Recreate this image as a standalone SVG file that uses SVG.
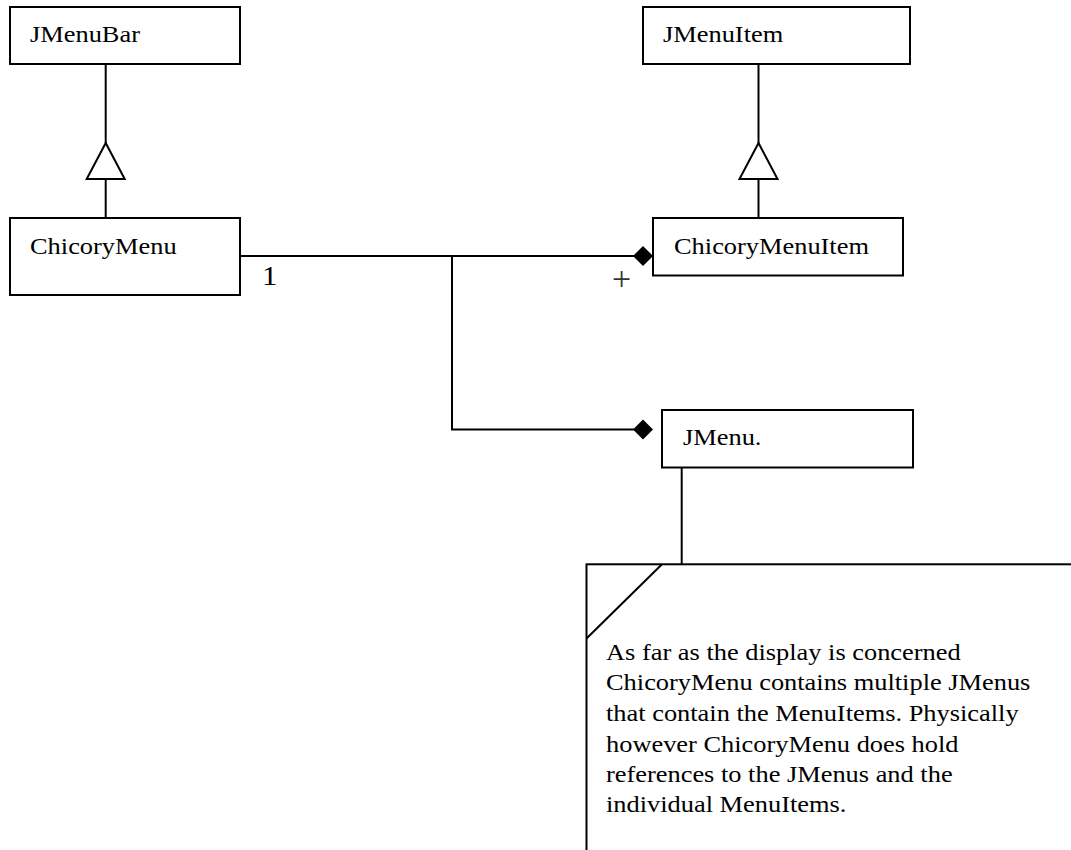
<svg xmlns="http://www.w3.org/2000/svg" width="1071" height="850" viewBox="0 0 1071 850">
  <style>
    .box { fill: #ffffff; stroke: #000000; stroke-width: 2; }
    .line { fill: none; stroke: #000000; stroke-width: 2; }
    .tri { fill: #ffffff; stroke: #000000; stroke-width: 2; stroke-linejoin: miter; }
    .dia { fill: #000000; stroke: none; }
    .t { font-family: "Liberation Serif", "Times New Roman", serif; font-size: 24px; fill: #000000; }
    .mult { font-family: "Liberation Serif", "Times New Roman", serif; font-size: 28px; fill: #000000; }
    .plus { font-family: "Liberation Serif", "Times New Roman", serif; font-size: 34px; fill: #333333; text-anchor: middle; }
  </style>
  <rect width="1071" height="850" fill="#ffffff"/>

  <!-- connectors -->
  <g id="connectors">
    <!-- JMenuBar <|- ChicoryMenu -->
    <line class="line" x1="105.7" y1="64" x2="105.7" y2="143"/>
    <line class="line" x1="105.7" y1="179" x2="105.7" y2="218"/>
    <polygon class="tri" points="105.7,143 86.7,179 124.7,179"/>
    <!-- JMenuItem <|- ChicoryMenuItem -->
    <line class="line" x1="758.5" y1="64" x2="758.5" y2="143"/>
    <line class="line" x1="758.5" y1="179" x2="758.5" y2="218"/>
    <polygon class="tri" points="758.5,143 739.5,179 777.5,179"/>
    <!-- ChicoryMenu composition of ChicoryMenuItem -->
    <line class="line" x1="240" y1="256" x2="634" y2="256"/>
    <polygon class="dia" points="653,256 643,246 633,256 643,266"/>
    <!-- branch to JMenu -->
    <polyline class="line" points="452,256 452,429.5 634,429.5"/>
    <polygon class="dia" points="653,429.5 643,419.5 633,429.5 643,439.5"/>
    <!-- JMenu to note -->
    <line class="line" x1="681.7" y1="467" x2="681.7" y2="564"/>
    <!-- multiplicities -->
    <text class="mult" transform="translate(262,285) scale(1.1,1)">1</text>
    <text class="plus" x="621.5" y="289.5">+</text>
  </g>

  <g id="JMenuBar">
    <rect class="box" x="10" y="7" width="230" height="57"/>
    <text class="t" transform="translate(30,42) scale(1.1,1)">JMenuBar</text>
  </g>

  <g id="JMenuItem">
    <rect class="box" x="643" y="7" width="267" height="57"/>
    <text class="t" transform="translate(663,42) scale(1.1,1)">JMenuItem</text>
  </g>

  <g id="ChicoryMenu">
    <rect class="box" x="10" y="218" width="230" height="77"/>
    <text class="t" transform="translate(30,254) scale(1.1,1)">ChicoryMenu</text>
  </g>

  <g id="ChicoryMenuItem">
    <rect class="box" x="653" y="218" width="250" height="57.5"/>
    <text class="t" transform="translate(674,254) scale(1.1,1)">ChicoryMenuItem</text>
  </g>

  <g id="JMenu">
    <rect class="box" x="662" y="410" width="251" height="57.5"/>
    <text class="t" transform="translate(683,445) scale(1.1,1)">JMenu.</text>
  </g>

  <g id="note">
    <rect class="box" x="586.5" y="564.3" width="500" height="300"/>
    <line class="line" x1="662" y1="564.3" x2="586.5" y2="638.5"/>
    <text class="t" transform="translate(606,659.5) scale(1.1,1)">As far as the display is concerned</text>
    <text class="t" transform="translate(606,690) scale(1.1,1)">ChicoryMenu contains multiple JMenus</text>
    <text class="t" transform="translate(606,721) scale(1.1,1)">that contain the MenuItems. Physically</text>
    <text class="t" transform="translate(606,751.5) scale(1.1,1)">however ChicoryMenu does hold</text>
    <text class="t" transform="translate(606,781.5) scale(1.1,1)">references to the JMenus and the</text>
    <text class="t" transform="translate(606,811.5) scale(1.1,1)">individual MenuItems.</text>
  </g>
</svg>
